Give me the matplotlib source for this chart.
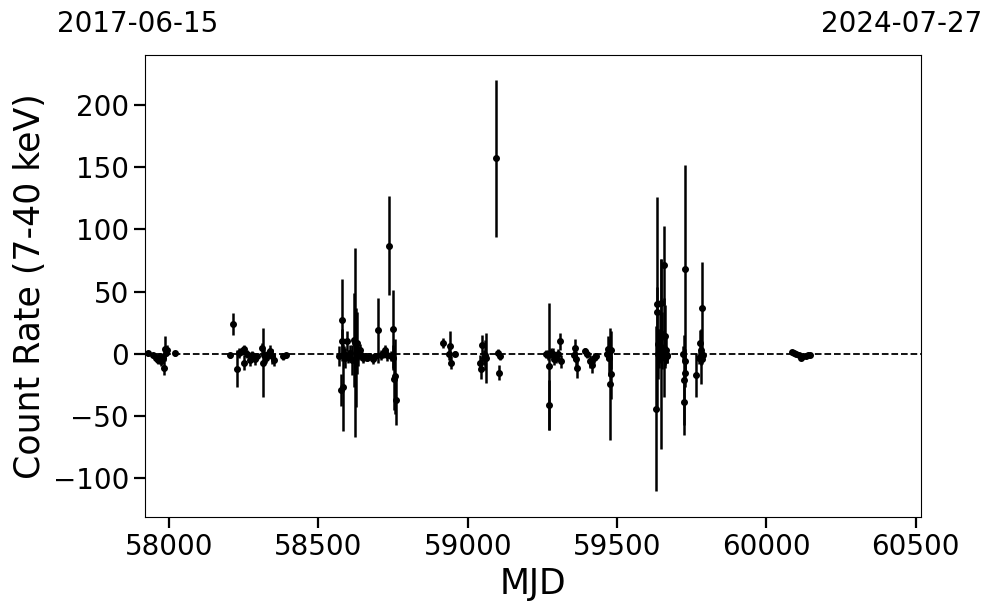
import matplotlib
matplotlib.use("Agg")
import matplotlib.pyplot as plt
import numpy as np

# ---- data ----
mjd = [
    # cluster A
    57928, 57945, 57955, 57962, 57968, 57972, 57978, 57982, 57985, 57988, 57992, 58020,
    # cluster B
    58204, 58214, 58227, 58234, 58244, 58251, 58251, 58261, 58271, 58277, 58288, 58294,
    58311, 58313, 58318, 58324, 58331, 58338, 58344, 58351, 58381, 58391,
    # cluster C
    58569, 58576, 58579, 58582, 58579, 58586, 58589, 58596, 58599, 58606, 58613, 58619,
    58622, 58626, 58629, 58633, 58639, 58643, 58649, 58656, 58663, 58670, 58683, 58690,
    58700, 58710, 58716, 58723, 58729, 58736, 58743, 58749, 58749, 58753, 58756, 58759,
    # cluster D
    58917, 58937, 58941, 58944, 58957,
    # cluster E
    59041, 59044, 59048, 59054, 59058, 59061, 59095, 59101, 59105, 59108,
    # cluster F
    59262, 59269, 59272, 59272, 59279, 59286, 59289, 59296, 59302, 59309, 59312,
    # cluster G
    59356, 59359, 59366, 59363, 59393, 59399, 59409, 59416, 59423, 59429,
    # cluster H
    59466, 59469, 59473, 59476, 59479, 59479,
    # cluster I
    59630, 59634, 59634, 59636, 59638, 59640, 59643, 59646, 59648, 59649, 59652, 59657,
    59658, 59660, 59662, 59664, 59666, 59668,
    59722, 59724, 59725, 59727, 59728, 59729, 59765,
    59775, 59778, 59780, 59782, 59784, 59786, 59788,
    # cluster J
    60086, 60092, 60100, 60108, 60116, 60124, 60132, 60140, 60147,
]
rate = [
    0.5, -1, -3, -5, -2, -6, -3, -11, 4, 1, 3, 0.5,
    -1, 24, -12, 1, 2, 4, -7, 0, -5, -1, -4, -2,
    5, -7, -1, -3, 0, 2, -2, -5, -2, -1,
    -2, -29, 27, -27, 10, 0, -3, 10, -2, 1, -5, 11,
    9, -3, 9, 0, 3, -1, -3, -2, -3, -2, -4, -2,
    19, -1, 0, 3, -1, 87, -2, 20, -3, -20, -18, -37,
    9, 0, 6, -7, 0,
    -7, -12, 7, -3, -1, -3, 157, 1, -15, -2,
    0, -1, -10, -41, 1, 0, -4, -3, 0, 10, -6,
    -1, 5, -11, -4, 2, 0, -6, -9, -3, -2,
    0, 4, -3, -24, -16, 3,
    -44, 40, 34, 8, 0, -3, 13, 41, 0, -2, 16, 71,
    5, -3, 14, 3, -1, -2,
    0, -21, -39, 68, -6, -15, -17,
    -3, 9, 3, -2, 37, -4, -1,
    1.5, 1, 0, -1, -3, -2, -2, -1, -1,
]
err = [
    2, 2, 3, 3, 3, 4, 4, 6, 10, 3, 4, 2,
    2, 9, 15, 4, 3, 3, 6, 3, 5, 3, 5, 3,
    4, 28, 5, 4, 3, 5, 6, 5, 3, 2,
    8, 13, 33, 35, 10, 6, 8, 8, 5, 6, 12, 38,
    76, 40, 25, 10, 5, 4, 4, 3, 3, 3, 4, 3,
    26, 4, 3, 4, 5, 40, 4, 31, 10, 25, 30, 20,
    4, 5, 12, 5, 2,
    6, 8, 8, 6, 12, 20, 63, 3, 6, 3,
    3, 4, 51, 20, 4, 5, 5, 4, 4, 7, 5,
    4, 7, 8, 6, 3, 3, 5, 6, 4, 3,
    5, 10, 15, 45, 20, 15,
    66, 86, 20, 12, 20, 8, 20, 35, 76, 10, 18, 32,
    40, 6, 25, 10, 6, 5,
    6, 36, 26, 84, 10, 12, 18,
    5, 10, 12, 22, 37, 4, 3,
    1.5, 1.5, 1.5, 1.5, 1.5, 1.5, 1.5, 1.5, 1.5,
]
xlim = (57919, 60518)
ylim = (-131, 240)
date_start = "2017-06-15"
date_end = "2024-07-27"
xticks = [58000, 58500, 59000, 59500, 60000, 60500]
yticks = [-100, -50, 0, 50, 100, 150, 200]

# ---- plot ----
fig = plt.figure(figsize=(9.97, 6.13), dpi=100)
ax = fig.add_axes([145/997, 1-517/613, (921-145)/997, (517-55)/613])

ax.errorbar(mjd, rate, yerr=err, fmt='o', color='black', markersize=4,
            elinewidth=1.8, capsize=0, zorder=3)
ax.axhline(0, color='black', ls='--', lw=1.3, zorder=2)

ax.set_xlim(*xlim)
ax.set_ylim(*ylim)
ax.set_xticks(xticks)
ax.set_yticks(yticks)
ax.tick_params(axis='both', which='major', labelsize=20, length=8, width=1.6)
ax.set_xlabel("MJD", fontsize=25)
ax.set_ylabel("Count Rate (7-40 keV)", fontsize=25)

fig.text(57/997, 1-32/613, date_start, ha='left', va='baseline', fontsize=20)
fig.text(982/997, 1-32/613, date_end, ha='right', va='baseline', fontsize=20)

fig.savefig("out.png", dpi=100)
